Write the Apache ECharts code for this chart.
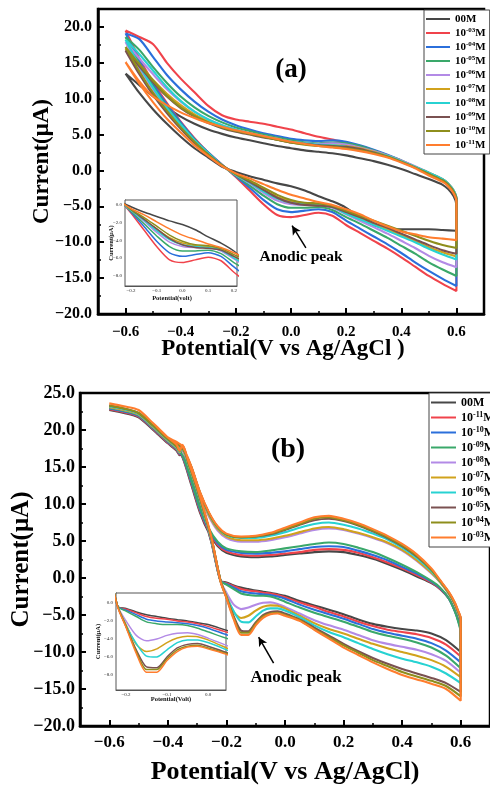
<!DOCTYPE html>
<html>
<head>
<meta charset="utf-8">
<script src="https://cdn.jsdelivr.net/npm/echarts@6/dist/echarts.min.js"></script>
<style>
  html, body { margin: 0; padding: 0; background: #fff; }
  #chart { width: 490px; height: 786px; }
</style>
</head>
<body>
<div id="chart"></div>
<script>
// Cyclic voltammograms, two panels, each with a zoomed inset of the anodic sweep.
const FONT = '"Liberation Serif", "Times New Roman", serif';
const curveColors = ['#474747', '#f0434b', '#2b6fdb', '#3aa86a', '#b38ae6',
                     '#d1a21c', '#27d2d2', '#7a5151', '#8e8e1c', '#ff7d2e'];

// ---------- panel (a) ----------
const legendA = ['00M', '10^-03M', '10^-04M', '10^-05M', '10^-06M',
                 '10^-07M', '10^-08M', '10^-09M', '10^-10M', '10^-11M'];
const potA_fwd = [-0.6, -0.55, -0.5, -0.45, -0.4, -0.35, -0.3, -0.25, -0.2, -0.15, -0.1, -0.05,
                  0, 0.05, 0.1, 0.15, 0.2, 0.25, 0.3, 0.35, 0.4, 0.45, 0.5, 0.55, 0.6];
const potA_rev = [0.6, 0.59, 0.57, 0.55, 0.5, 0.45, 0.4, 0.35, 0.3, 0.25, 0.2, 0.15, 0.1, 0.05,
                  0, -0.05, -0.1, -0.15, -0.2, -0.25, -0.3, -0.35, -0.4, -0.45, -0.5, -0.55, -0.6];

// anodic (forward) sweeps, µA
const aFwd00 = [13.5, 10.8, 8.5, 6.5, 4.7, 3.1, 1.8, 0.5, -0.2, -0.8, -1.3, -1.8, -2.2, -2.8, -3.6, -4.3, -5.2, -6.5, -7.6, -8.1, -8.2, -8.2, -8.2, -8.3, -8.4];
const aFwd03 = [19.5, 15.6, 12.3, 9.4, 6.8, 4.5, 2.5, 0.8, -0.9, -2.8, -4.7, -6.2, -6.5, -6.2, -5.9, -6.3, -7.6, -8.7, -9.8, -10.9, -12.1, -13.4, -14.7, -15.8, -16.8];
const aFwd04 = [19.1, 15.3, 12.0, 9.2, 6.7, 4.4, 2.5, 0.8, -0.8, -2.4, -4.1, -5.4, -5.8, -5.6, -5.4, -5.8, -7.0, -8.1, -9.2, -10.3, -11.5, -12.8, -14.0, -15.1, -16.1];
const aFwd05 = [18.6, 14.9, 11.7, 8.9, 6.5, 4.3, 2.4, 0.7, -0.7, -2.1, -3.5, -4.7, -5.2, -5.2, -5.1, -5.5, -6.5, -7.4, -8.4, -9.4, -10.5, -11.6, -12.8, -13.8, -14.7];
const aFwd06 = [17.9, 14.3, 11.3, 8.6, 6.3, 4.1, 2.3, 0.7, -0.6, -1.8, -3.1, -4.2, -4.7, -4.8, -4.8, -5.2, -6.1, -7.0, -7.9, -8.8, -9.8, -10.8, -11.9, -12.8, -13.5];
const aFwd07 = [17.0, 13.6, 10.7, 8.2, 6.0, 3.9, 2.2, 0.7, -0.6, -1.6, -2.7, -3.7, -4.3, -4.6, -4.7, -5.0, -5.8, -6.6, -7.4, -8.2, -9.0, -9.8, -10.7, -11.4, -12.0];
const aFwd08 = [18.2, 14.6, 11.5, 8.7, 6.4, 4.2, 2.4, 0.7, -0.6, -1.7, -2.9, -3.9, -4.5, -4.7, -4.8, -5.1, -6.0, -6.8, -7.6, -8.4, -9.2, -10.0, -10.9, -11.7, -12.4];
const aFwd09 = [16.7, 13.4, 10.5, 8.0, 5.8, 3.8, 2.2, 0.7, -0.5, -1.6, -2.7, -3.8, -4.5, -4.8, -4.9, -5.1, -5.8, -6.5, -7.3, -8.0, -8.8, -9.6, -10.4, -11.1, -11.6];
const aFwd10 = [17.2, 13.8, 10.8, 8.3, 6.0, 4.0, 2.2, 0.7, -0.5, -1.4, -2.4, -3.4, -4.1, -4.5, -4.6, -4.9, -5.6, -6.3, -7.0, -7.7, -8.4, -9.1, -9.8, -10.4, -10.8];
const aFwd11 = [15.1, 12.1, 9.5, 7.2, 5.3, 3.5, 2.0, 0.6, -0.4, -1.1, -1.9, -2.7, -3.4, -3.9, -4.4, -4.8, -5.4, -6.1, -7.0, -7.8, -8.5, -8.9, -9.3, -9.5, -9.7];

// cathodic (return) sweeps, µA
const aRev00 = [-4.8, -3.6, -2.6, -2.0, -1.2, -0.5, 0.2, 0.8, 1.3, 1.7, 2.1, 2.4, 2.6, 2.8, 3.1, 3.4, 3.8, 4.2, 4.6, 5.1, 5.7, 6.5, 7.5, 8.8, 10.3, 11.9, 13.5];
const aRev03 = [-4.2, -3.0, -2.0, -1.4, -0.5, 0.4, 1.3, 2.1, 2.8, 3.4, 3.9, 4.3, 4.7, 5.2, 5.7, 6.1, 6.5, 6.8, 7.1, 7.7, 9.0, 10.9, 12.8, 15.0, 17.6, 18.6, 19.5];
const aRev04 = [-4.0, -2.9, -1.9, -1.3, -0.4, 0.5, 1.4, 2.2, 2.9, 3.5, 4.0, 4.2, 4.1, 4.2, 4.4, 4.8, 5.2, 5.7, 6.3, 7.1, 8.2, 9.6, 11.3, 13.3, 15.8, 18.3, 19.1];
const aRev05 = [-4.0, -2.9, -1.9, -1.3, -0.4, 0.5, 1.4, 2.1, 2.8, 3.4, 3.8, 3.9, 3.8, 3.9, 4.2, 4.6, 5.0, 5.5, 6.0, 6.7, 7.6, 8.8, 10.3, 12.2, 14.4, 16.8, 18.6];
const aRev06 = [-3.9, -2.8, -1.8, -1.2, -0.3, 0.6, 1.4, 2.1, 2.7, 3.2, 3.6, 3.8, 3.7, 3.8, 4.0, 4.4, 4.8, 5.2, 5.7, 6.3, 7.1, 8.2, 9.6, 11.3, 13.4, 15.6, 17.9];
const aRev07 = [-3.9, -2.8, -1.8, -1.2, -0.3, 0.5, 1.3, 2.0, 2.6, 3.1, 3.4, 3.5, 3.5, 3.7, 3.9, 4.3, 4.7, 5.1, 5.5, 6.1, 6.8, 7.8, 9.1, 10.7, 12.6, 14.8, 17.0];
const aRev08 = [-3.9, -2.8, -1.8, -1.2, -0.3, 0.5, 1.3, 2.0, 2.5, 2.9, 3.3, 3.5, 3.6, 3.8, 4.0, 4.4, 4.8, 5.2, 5.7, 6.3, 7.1, 8.2, 9.7, 11.6, 13.9, 16.2, 18.2];
const aRev09 = [-4.1, -3.0, -2.0, -1.4, -0.5, 0.4, 1.2, 1.9, 2.5, 3.0, 3.3, 3.4, 3.5, 3.7, 3.9, 4.3, 4.6, 5.0, 5.4, 5.9, 6.6, 7.5, 8.7, 10.3, 12.3, 14.5, 16.7];
const aRev10 = [-4.1, -3.0, -2.0, -1.4, -0.5, 0.4, 1.2, 1.9, 2.4, 2.8, 3.1, 3.3, 3.4, 3.6, 3.9, 4.3, 4.7, 5.1, 5.5, 6.0, 6.7, 7.6, 8.8, 10.4, 12.5, 14.8, 17.2];
const aRev11 = [-4.3, -3.2, -2.2, -1.6, -0.7, 0.3, 1.1, 1.8, 2.3, 2.7, 3.0, 3.2, 3.4, 3.7, 4.0, 4.4, 4.8, 5.2, 5.6, 6.1, 6.6, 7.3, 8.1, 9.1, 10.3, 12.4, 15.1];

const fwdA = [aFwd00, aFwd03, aFwd04, aFwd05, aFwd06, aFwd07, aFwd08, aFwd09, aFwd10, aFwd11];
const revA = [aRev00, aRev03, aRev04, aRev05, aRev06, aRev07, aRev08, aRev09, aRev10, aRev11];

// ---------- panel (b) ----------
const legendB = ['00M', '10^-11M', '10^-10M', '10^-09M', '10^-08M',
                 '10^-07M', '10^-06M', '10^-05M', '10^-04M', '10^-03M'];
const potB_fwd = [-0.6, -0.55, -0.5, -0.45, -0.4, -0.37, -0.36, -0.35, -0.33, -0.3, -0.27, -0.25, -0.22,
                  -0.2, -0.175, -0.15, -0.125, -0.1, -0.075, -0.05, -0.025, 0, 0.05, 0.1, 0.15, 0.2,
                  0.25, 0.3, 0.35, 0.4, 0.45, 0.5, 0.55, 0.6];
const potB_rev = [0.6, 0.59, 0.58, 0.56, 0.53, 0.5, 0.45, 0.4, 0.35, 0.3, 0.25, 0.2, 0.15, 0.1, 0.05, 0,
                  -0.05, -0.1, -0.15, -0.2, -0.23, -0.26, -0.29, -0.32, -0.35, -0.37, -0.4, -0.45, -0.5, -0.55, -0.6];

const bFwd00 = [22.7, 22.3, 21.7, 20.0, 18.2, 17.2, 16.6, 17.3, 14.9, 11.4, 7.4, 4.6, -0.4,
                -0.6, -1.0, -1.3, -1.5, -1.7, -1.85, -2.0, -2.2, -2.4, -3.1, -3.7, -4.3, -4.9, -5.6, -6.2, -6.6, -6.9, -7.1, -7.5, -8.4, -10.0];
const bFwd11 = [22.8, 22.4, 21.8, 20.1, 18.3, 17.3, 16.7, 17.4, 15.0, 11.5, 7.5, 4.7, -0.4,
                -0.7, -1.1, -1.5, -1.7, -1.8, -2.0, -2.1, -2.3, -2.6, -3.3, -3.9, -4.6, -5.2, -5.9, -6.5, -7.0, -7.3, -7.6, -8.1, -9.0, -10.6];
const bFwd10 = [22.9, 22.5, 21.9, 20.2, 18.4, 17.4, 16.8, 17.5, 15.1, 11.6, 7.6, 4.8, -0.4,
                -0.8, -1.3, -1.8, -2.0, -2.1, -2.2, -2.3, -2.5, -2.8, -3.6, -4.3, -4.9, -5.5, -6.2, -6.9, -7.4, -7.8, -8.2, -8.8, -9.8, -11.4];
const bFwd09 = [23.0, 22.6, 22.0, 20.3, 18.5, 17.5, 16.9, 17.6, 15.2, 11.7, 7.7, 4.9, -0.4,
                -0.9, -1.5, -2.1, -2.3, -2.4, -2.4, -2.5, -2.8, -3.2, -4.0, -4.7, -5.3, -5.9, -6.6, -7.3, -7.8, -8.2, -8.7, -9.4, -10.5, -12.2];
const bFwd08 = [23.1, 22.7, 22.1, 20.4, 18.6, 17.6, 17.0, 17.7, 15.4, 11.9, 7.9, 5.0, -0.4,
                -2.0, -3.6, -4.2, -4.0, -3.6, -3.35, -3.3, -3.5, -3.9, -4.8, -5.7, -6.4, -7.0, -7.7, -8.4, -8.9, -9.3, -9.7, -10.3, -11.2, -12.8];
const bFwd07 = [23.1, 22.7, 22.1, 20.4, 18.6, 17.6, 17.0, 17.7, 15.4, 11.9, 7.9, 5.0, -0.4,
                -2.4, -4.6, -5.4, -5.1, -4.4, -3.9, -3.7, -3.75, -4.1, -5.1, -6.1, -6.9, -7.5, -8.2, -8.9, -9.5, -10.0, -10.5, -11.1, -12.0, -13.4];
const bFwd06 = [23.2, 22.8, 22.2, 20.5, 18.7, 17.7, 17.1, 17.8, 15.5, 12.0, 8.0, 5.1, -0.4,
                -2.5, -4.5, -5.9, -6.0, -5.2, -4.4, -4.1, -4.1, -4.4, -5.3, -6.4, -7.3, -8.0, -8.8, -9.6, -10.3, -10.9, -11.4, -12.0, -12.9, -14.2];
const bFwd05 = [23.3, 22.9, 22.3, 20.6, 18.8, 17.8, 17.2, 17.9, 15.6, 12.1, 8.1, 5.2, -0.4,
                -2.6, -5.2, -7.1, -7.2, -6.0, -5.0, -4.6, -4.5, -4.8, -5.6, -6.7, -7.8, -8.9, -9.9, -10.8, -11.6, -12.3, -12.9, -13.5, -14.2, -15.4];
const bFwd04 = [23.3, 22.9, 22.3, 20.6, 18.8, 17.8, 17.2, 17.9, 15.6, 12.1, 8.1, 5.2, -0.4,
                -2.6, -5.4, -7.4, -7.4, -6.2, -5.2, -4.8, -4.7, -5.0, -5.7, -6.9, -8.0, -9.1, -10.1, -11.1, -11.9, -12.7, -13.3, -13.9, -14.6, -16.0];
const bFwd03 = [23.6, 23.2, 22.7, 20.9, 19.0, 18.0, 17.2, 18.0, 15.8, 12.3, 8.3, 5.3, -0.5,
                -2.7, -5.6, -7.7, -7.7, -6.4, -5.4, -4.9, -4.8, -5.1, -5.8, -7.0, -8.2, -9.4, -10.4, -11.4, -12.3, -13.1, -13.7, -14.3, -15.0, -16.6];

const bRev00 = [-6.8, -5.4, -4.4, -2.8, -1.5, -0.7, 0.2, 1.1, 1.9, 2.6, 3.1, 3.5, 3.6, 3.5, 3.3, 3.1, 2.9, 2.8, 2.9, 3.4, 4.3, 6.1, 8.8, 12.6, 16.3, 17.3, 18.2, 20.0, 21.7, 22.3, 22.7];
const bRev11 = [-7.0, -5.5, -4.4, -2.8, -1.5, -0.6, 0.4, 1.3, 2.1, 2.8, 3.4, 3.8, 3.9, 3.8, 3.5, 3.3, 3.1, 3.0, 3.1, 3.6, 4.5, 6.3, 9.0, 12.8, 16.4, 17.4, 18.3, 20.1, 21.8, 22.4, 22.8];
const bRev10 = [-7.2, -5.6, -4.5, -2.8, -1.4, -0.5, 0.6, 1.5, 2.4, 3.1, 3.7, 4.2, 4.3, 4.2, 3.9, 3.6, 3.4, 3.3, 3.4, 3.8, 4.7, 6.5, 9.2, 13.0, 16.5, 17.5, 18.4, 20.2, 21.9, 22.5, 22.9];
const bRev09 = [-7.4, -5.7, -4.5, -2.8, -1.3, -0.4, 0.8, 1.8, 2.7, 3.5, 4.1, 4.6, 4.8, 4.6, 4.3, 4.0, 3.7, 3.5, 3.6, 4.0, 4.9, 6.7, 9.4, 13.2, 16.6, 17.6, 18.5, 20.3, 22.0, 22.6, 23.0];
const bRev08 = [-5.8, -4.6, -3.6, -2.2, -0.6, 0.6, 2.3, 3.7, 4.7, 5.4, 6.0, 6.5, 6.7, 6.5, 6.0, 5.5, 5.1, 4.9, 4.9, 5.4, 6.4, 8.3, 11.0, 14.5, 17.3, 17.9, 18.6, 20.4, 22.1, 22.7, 23.1];
const bRev07 = [-5.8, -4.6, -3.6, -2.2, -0.6, 0.7, 2.4, 3.8, 4.8, 5.5, 6.1, 6.6, 6.9, 6.7, 6.2, 5.7, 5.3, 5.1, 5.1, 5.6, 6.6, 8.5, 11.2, 14.7, 17.4, 18.0, 18.6, 20.4, 22.1, 22.7, 23.1];
const bRev06 = [-5.6, -4.5, -3.5, -2.1, -0.5, 0.9, 2.7, 4.1, 5.2, 6.0, 6.7, 7.2, 7.5, 7.3, 6.8, 6.2, 5.7, 5.4, 5.4, 5.8, 6.8, 8.7, 11.4, 14.9, 17.5, 18.1, 18.7, 20.5, 22.2, 22.8, 23.2];
const bRev05 = [-5.5, -4.4, -3.4, -2.0, -0.4, 1.1, 2.9, 4.3, 5.4, 6.3, 7.1, 7.7, 8.0, 7.8, 7.2, 6.5, 5.9, 5.6, 5.5, 5.9, 6.9, 8.8, 11.5, 15.0, 17.6, 18.2, 18.8, 20.6, 22.3, 22.9, 23.3];
const bRev04 = [-5.5, -4.4, -3.4, -2.0, -0.4, 1.1, 3.0, 4.4, 5.5, 6.4, 7.2, 7.8, 8.2, 8.0, 7.3, 6.6, 6.0, 5.6, 5.5, 5.9, 6.9, 8.8, 11.5, 15.0, 17.6, 18.2, 18.8, 20.6, 22.3, 22.9, 23.3];
const bRev03 = [-5.4, -4.3, -3.3, -1.9, -0.3, 1.3, 3.2, 4.6, 5.7, 6.6, 7.4, 8.0, 8.4, 8.2, 7.5, 6.8, 6.1, 5.7, 5.6, 6.0, 7.0, 8.9, 11.6, 15.1, 17.8, 18.4, 19.0, 20.9, 22.7, 23.2, 23.6];

const fwdB = [bFwd00, bFwd11, bFwd10, bFwd09, bFwd08, bFwd07, bFwd06, bFwd05, bFwd04, bFwd03];
const revB = [bRev00, bRev11, bRev10, bRev09, bRev08, bRev07, bRev06, bRev05, bRev04, bRev03];

// ---------- ticks & annotations ----------
const ticksX = [-0.6, -0.4, -0.2, 0, 0.2, 0.4, 0.6];
const minorX = [-0.5, -0.3, -0.1, 0.1, 0.3, 0.5];
const ticksYA = [-20, -15, -10, -5, 0, 5, 10, 15, 20];
const minorYA = [-17.5, -12.5, -7.5, -2.5, 2.5, 7.5, 12.5, 17.5];
const ticksYB = [-20, -15, -10, -5, 0, 5, 10, 15, 20, 25];
const minorYB = [-17.5, -12.5, -7.5, -2.5, 2.5, 7.5, 12.5, 17.5, 22.5];
const insetTicksXA = [-0.2, -0.1, 0, 0.1, 0.2];
const insetTicksXB = [-0.2, -0.1, 0];
const insetTicksY = [0, -2, -4, -6, -8];
const arrowA = [[0.054, -10.8], [0.004, -7.7]];
const arrowB = [[-0.039, -11.5], [-0.09, -8.0]];

// ---------- helpers ----------
const fmt1 = v => (v < -1e-9 ? '\u2212' : '') + Math.abs(v).toFixed(1);
const loop = (pf, f, pr, r) => pf.map((p, i) => [p, f[i]]).concat(pr.map((p, i) => [p, r[i]]));
const legendText = name => {
  const n = name.slice(2);
  const m = n.match(/^10\^(-\d+)M$/);
  return m ? '10{s|' + m[1] + '}M' : n;
};

function mainX(grid, fs, margin, name, nameGap, nameFs, padRight) {
  return {
    gridIndex: grid, type: 'value', min: -0.7, max: 0.7, position: 'bottom',
    axisLine: { onZero: false, lineStyle: { color: '#000', width: 2.5 } },
    axisTick: { inside: true, length: 6, lineStyle: { color: '#000', width: 2 }, customValues: ticksX },
    axisLabel: { customValues: ticksX, formatter: fmt1, margin: margin, color: '#000',
                 fontFamily: FONT, fontWeight: 'bold', fontSize: fs },
    splitLine: { show: false },
    name: name, nameLocation: 'middle', nameGap: nameGap, nameMoveOverlap: false,
    nameTextStyle: { fontFamily: FONT, fontWeight: 'bold', fontSize: nameFs, color: '#000',
                     padding: [0, padRight, 0, 0] }
  };
}
function minorAxis(grid, min, max, vals, pos) {
  return {
    gridIndex: grid, type: 'value', min: min, max: max, position: pos,
    axisLine: { show: false, onZero: false },
    axisTick: { inside: true, length: 3, lineStyle: { color: '#000', width: 1.5 }, customValues: vals },
    axisLabel: { show: false }, splitLine: { show: false }
  };
}
function mainY(grid, min, max, ticks, fs, margin, nameGap, nameFs) {
  return {
    gridIndex: grid, type: 'value', min: min, max: max, position: 'left',
    axisLine: { onZero: false, lineStyle: { color: '#000', width: 2.5 } },
    axisTick: { inside: true, length: 6, lineStyle: { color: '#000', width: 2 }, customValues: ticks },
    axisLabel: { customValues: ticks, formatter: fmt1, margin: margin, color: '#000',
                 fontFamily: FONT, fontWeight: 'bold', fontSize: fs },
    splitLine: { show: false },
    name: 'Current(\u03bcA)', nameLocation: 'middle', nameGap: nameGap, nameMoveOverlap: false,
    nameTextStyle: { fontFamily: FONT, fontWeight: 'bold', fontSize: nameFs, color: '#000' }
  };
}
function insetX(grid, min, max, ticks, name, nameGap, padRight) {
  return {
    gridIndex: grid, type: 'value', min: min, max: max, position: 'bottom',
    axisLine: { onZero: false, lineStyle: { color: '#555', width: 1 } },
    axisTick: { inside: true, length: 2, lineStyle: { color: '#555', width: 0.8 }, customValues: ticks },
    axisLabel: { customValues: ticks, formatter: fmt1, margin: 2, color: '#222',
                 fontFamily: FONT, fontSize: 5 },
    splitLine: { show: false },
    name: name, nameLocation: 'middle', nameGap: nameGap, nameMoveOverlap: false,
    nameTextStyle: { fontFamily: FONT, fontWeight: 'bold', fontSize: 6.5, color: '#111',
                     padding: [0, padRight, 0, 0] }
  };
}
function insetY(grid, min, max, nameGap) {
  return {
    gridIndex: grid, type: 'value', min: min, max: max, position: 'left',
    axisLine: { onZero: false, lineStyle: { color: '#555', width: 1 } },
    axisTick: { inside: true, length: 2, lineStyle: { color: '#555', width: 0.8 }, customValues: insetTicksY },
    axisLabel: { customValues: insetTicksY, formatter: fmt1, margin: 3, color: '#222',
                 fontFamily: FONT, fontSize: 5 },
    splitLine: { show: false },
    name: 'Current(\u03bcA)', nameLocation: 'middle', nameGap: nameGap, nameMoveOverlap: false,
    nameTextStyle: { fontFamily: FONT, fontWeight: 'bold', fontSize: 6.5, color: '#111' }
  };
}

const series = [];
function addPanel(prefix, names, pf, fwd, pr, rev, mainAx, insetAx, arrow) {
  names.forEach((n, i) => {
    const data = loop(pf, fwd[i], pr, rev[i]);
    const common = {
      type: 'line', name: prefix + n, symbol: 'none', smooth: 0.25, animation: false,
      color: curveColors[i], itemStyle: { color: curveColors[i] }
    };
    series.push(Object.assign({}, common, {
      xAxisIndex: mainAx, yAxisIndex: mainAx, data: data, z: 3 + i,
      lineStyle: { color: curveColors[i], width: 2.1 }
    }));
    series.push(Object.assign({}, common, {
      xAxisIndex: insetAx, yAxisIndex: insetAx, data: data, z: 3 + i, clip: true,
      lineStyle: { color: curveColors[i], width: 1.5 }
    }));
  });
  // arrow pointing at the anodic peak
  series[series.length - 2].markLine = {
    silent: true, symbol: ['none', 'arrow'], symbolSize: [7, 9], animation: false,
    label: { show: false },
    lineStyle: { color: '#000', width: 1.5, type: 'solid' },
    data: [[{ coord: arrow[0] }, { coord: arrow[1] }]]
  };
}
addPanel('a ', legendA, potA_fwd, fwdA, potA_rev, revA, 0, 2, arrowA);
addPanel('b ', legendB, potB_fwd, fwdB, potB_rev, revB, 3, 5, arrowB);

function legendCfg(names, left, top, w, fs, sfs, lh) {
  return {
    data: names, orient: 'vertical', left: left, top: top,
    icon: 'rect', itemWidth: w, itemHeight: 2, itemGap: 2, selectedMode: false,
    backgroundColor: '#fff', borderColor: '#444', borderWidth: 1, borderRadius: 0,
    padding: [3, 4, 3, 2],
    formatter: legendText,
    textStyle: {
      fontFamily: FONT, fontWeight: 'bold', fontSize: fs, color: '#000', lineHeight: lh,
      rich: { s: { fontFamily: FONT, fontWeight: 'bold', fontSize: sfs, color: '#000',
                   lineHeight: lh, padding: [0, 0, Math.round(fs * 0.45), 0] } }
    }
  };
}

const option = {
  backgroundColor: '#fff',
  animation: false,
  grid: [
    { left: 98, top: 9, width: 386, height: 305, show: true, borderColor: '#000', borderWidth: 2.5 },
    { left: 125, top: 200, width: 112, height: 86, show: true, borderColor: '#555', borderWidth: 1, backgroundColor: '#fff', z: 1 },
    { left: 80, top: 393, width: 414, height: 334, show: true, borderColor: '#000', borderWidth: 2.5 },
    { left: 116, top: 593, width: 110, height: 97, show: true, borderColor: '#555', borderWidth: 1, backgroundColor: '#fff', z: 1 }
  ],
  xAxis: [
    mainX(0, 15, 11, 'Potential(V vs Ag/AgCl )', 24, 23, 16),
    minorAxis(0, -0.7, 0.7, minorX, 'bottom'),
    insetX(1, -0.223, 0.212, insetTicksXA, 'Potential(volt)', 9, 18),
    mainX(2, 17, 8, 'Potential(V vs Ag/AgCl)', 33, 26, 0),
    minorAxis(2, -0.7, 0.7, minorX, 'bottom'),
    insetX(3, -0.2244, 0.0439, insetTicksXB, 'Potential(Volt)', 6, 0)
  ],
  yAxis: [
    mainY(0, -20, 22.5, ticksYA, 16, 6, 44, 23),
    minorAxis(0, -20, 22.5, minorYA, 'left'),
    insetY(1, -9.15, 0.56, 10),
    mainY(2, -20, 25, ticksYB, 18, 5, 46, 25),
    minorAxis(2, -20, 25, minorYB, 'left'),
    insetY(3, -9.67, 1.11, 14)
  ],
  legend: [
    legendCfg(legendA.map(n => 'a ' + n), 424, 10, 24, 11, 7, 12),
    legendCfg(legendB.map(n => 'b ' + n), 429, 393, 25, 12, 8, 13)
  ],
  graphic: [
    { type: 'text', x: 291, y: 70, style: { text: '(a)', font: 'bold 27px ' + FONT, fill: '#000', align: 'center', verticalAlign: 'middle' } },
    { type: 'text', x: 288, y: 450, style: { text: '(b)', font: 'bold 28px ' + FONT, fill: '#000', align: 'center', verticalAlign: 'middle' } },
    { type: 'text', x: 301, y: 257, style: { text: 'Anodic peak', font: 'bold 15.5px ' + FONT, fill: '#000', align: 'center', verticalAlign: 'middle' } },
    { type: 'text', x: 296, y: 678, style: { text: 'Anodic peak', font: 'bold 17px ' + FONT, fill: '#000', align: 'center', verticalAlign: 'middle' } }
  ],
  series: series
};

const chart = echarts.init(document.getElementById('chart'), null, { renderer: 'canvas' });
chart.setOption(option);
</script>
</body>
</html>
